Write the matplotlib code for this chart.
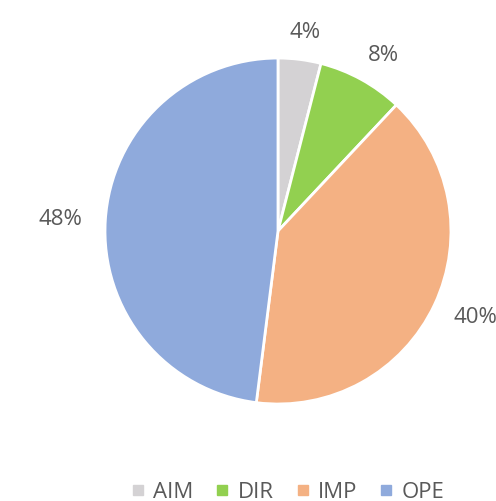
import matplotlib
matplotlib.use("Agg")
import matplotlib.pyplot as plt
from matplotlib.lines import Line2D
import numpy as np

categories = ["AIM", "DIR", "IMP", "OPE"]
values = [4, 8, 40, 48]
colors = ["#D4D2D4", "#92D050", "#F4B183", "#8FAADC"]

plt.rcParams['font.family'] = ['Open Sans', 'DejaVu Sans']

fig = plt.figure(figsize=(4.96, 5.02), dpi=100)
ax = fig.add_axes([0.2117, 0.1932, 0.6975, 0.6892])
wedges, _ = ax.pie(
    values, colors=colors, startangle=90, counterclock=False,
    wedgeprops=dict(edgecolor="white", linewidth=2))
ax.set_xlim(-1, 1)
ax.set_ylim(-1, 1)
ax.set_aspect("equal")

# data labels placed just outside each wedge (best-fit style)
gap = 0.10
half_w, half_h = 0.16, 0.065
for w, v in zip(wedges, values):
    th = np.deg2rad((w.theta1 + w.theta2) / 2)
    c, s = np.cos(th), np.sin(th)
    x = (1 + gap) * c + half_w * c
    y = (1 + gap) * s + half_h * s
    ax.text(x, y, f"{v}%", ha="center", va="center", fontsize=16,
            color="#595959", clip_on=False)

handles = [Line2D([0], [0], marker="s", linestyle="", markersize=7,
                  markerfacecolor=c, markeredgecolor=c) for c in colors]
fig.legend(handles, categories, loc="center", bbox_to_anchor=(0.578, 0.018),
           ncol=4, frameon=False, fontsize=16, labelcolor="#595959",
           handletextpad=0.3, columnspacing=0.9, handlelength=0.8)
fig.savefig("out.png", dpi=100, facecolor="white")
